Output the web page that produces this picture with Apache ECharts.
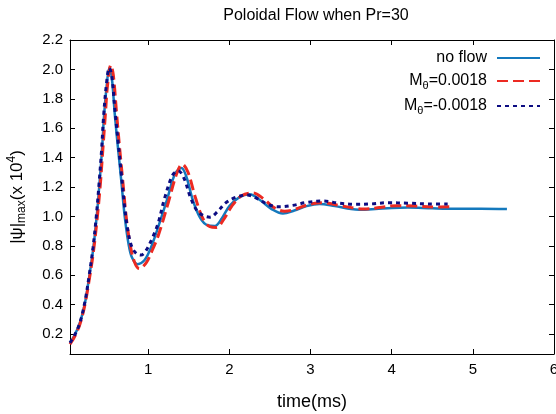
<!DOCTYPE html>
<html><head><meta charset="utf-8">
<script src="https://cdn.jsdelivr.net/npm/echarts@6/dist/echarts.min.js"></script>
<style>html,body{margin:0;padding:0;background:#fff}#c{width:556px;height:414px}</style>
</head><body><div id="c"></div>
<script>
var titleText = 'Poloidal Flow when Pr=30';
var seriesNames = ['no flow', 'Mθ=0.0018', 'Mθ=-0.0018'];
var xTickValues = [1, 2, 3, 4, 5, 6];
var yTickValues = [0.2, 0.4, 0.6, 0.8, 1.0, 1.2, 1.4, 1.6, 1.8, 2.0, 2.2];

var tNoFlow = [0.036,0.10,0.16,0.22,0.27,0.32,0.365,0.40,0.43,0.455,0.49,0.52,0.55,0.59,0.63,0.67,0.71,0.755,0.80,0.87,0.95,1.02,1.10,1.23,1.33,1.41,1.47,1.55,1.64,1.73,1.82,1.91,2.0,2.12,2.25,2.38,2.52,2.66,2.8,2.95,3.11,3.3,3.5,3.6,3.8,4.0,4.2,4.5,4.8,5.1,5.42];
var vNoFlow = [0.14,0.20,0.28,0.41,0.58,0.77,1.0,1.23,1.45,1.68,1.90,2.01,1.95,1.68,1.45,1.23,1.00,0.82,0.72,0.675,0.70,0.77,0.89,1.11,1.29,1.33,1.27,1.11,0.99,0.94,0.935,0.99,1.07,1.13,1.15,1.11,1.05,1.02,1.04,1.07,1.085,1.07,1.05,1.045,1.05,1.058,1.06,1.055,1.052,1.052,1.05];

var tPos = [0.036,0.10,0.16,0.22,0.27,0.32,0.37,0.41,0.44,0.47,0.50,0.54,0.57,0.61,0.65,0.69,0.73,0.78,0.83,0.89,0.97,1.05,1.13,1.25,1.35,1.42,1.49,1.58,1.67,1.76,1.84,1.93,2.03,2.15,2.29,2.42,2.55,2.68,2.82,2.97,3.15,3.35,3.55,3.65,3.85,4.06,4.3,4.5,4.73];
var vPos = [0.13,0.19,0.27,0.40,0.56,0.74,0.98,1.22,1.45,1.68,1.90,2.03,1.96,1.70,1.45,1.22,0.99,0.80,0.69,0.645,0.68,0.77,0.88,1.10,1.29,1.355,1.30,1.13,0.99,0.93,0.925,0.98,1.07,1.14,1.16,1.12,1.06,1.035,1.05,1.08,1.093,1.075,1.055,1.05,1.06,1.073,1.07,1.064,1.065];

var tNeg = [0.036,0.10,0.16,0.22,0.27,0.32,0.36,0.395,0.425,0.45,0.485,0.52,0.55,0.59,0.63,0.67,0.71,0.75,0.80,0.86,0.91,0.97,1.04,1.12,1.2,1.30,1.37,1.44,1.52,1.60,1.68,1.76,1.85,1.95,2.08,2.22,2.35,2.48,2.62,2.78,2.95,3.15,3.35,3.55,3.75,3.95,4.2,4.45,4.69];
var vNeg = [0.14,0.20,0.28,0.42,0.59,0.79,1.0,1.23,1.45,1.68,1.90,2.01,1.96,1.72,1.50,1.28,1.06,0.90,0.79,0.745,0.737,0.765,0.84,0.95,1.12,1.28,1.31,1.26,1.13,1.04,1.005,0.995,1.03,1.09,1.13,1.145,1.12,1.08,1.065,1.075,1.095,1.105,1.09,1.082,1.085,1.093,1.09,1.085,1.084];

function pairs(t, v) { return t.map(function (x, i) { return [x, v[i]]; }); }

var FONT = '"Liberation Sans", Arial, sans-serif';
var chart = echarts.init(document.getElementById('c'), null, {renderer: 'canvas'});
var richName = {
  a: {fontSize: 17, fontFamily: FONT, color: '#000', lineHeight: 22},
  s: {fontSize: 12, fontFamily: FONT, color: '#000', lineHeight: 12, verticalAlign: 'bottom'},
  p: {fontSize: 12, fontFamily: FONT, color: '#000', lineHeight: 12, verticalAlign: 'top'}
};
var richLegend = {
  a: {fontSize: 16, fontFamily: FONT, color: '#000', lineHeight: 20},
  s: {fontSize: 11, fontFamily: FONT, color: '#000', lineHeight: 11, verticalAlign: 'bottom'}
};
function legendFmt(name) {
  if (name.indexOf('Mθ') === 0) return '{a|M}{s|θ}{a|' + name.slice(2) + '}';
  return '{a|' + name + '}';
}
var axisCommon = {
  axisLine: {show: true, onZero: false, lineStyle: {color: '#000', width: 1}},
  splitLine: {show: false}
};
function ticks(vals) { return {show: true, inside: true, length: 5, customValues: vals, lineStyle: {color: '#000'}}; }
var xRange = {min: 0.036, max: 6};
var yRange = {min: 0.064, max: 2.2};
chart.setOption({
  animation: false,
  backgroundColor: '#fff',
  title: {text: titleText, left: 311, top: 3, textAlign: 'center',
    textStyle: {fontSize: 16, fontWeight: 'normal', color: '#000', fontFamily: FONT}},
  grid: {left: 70, right: 2, top: 40, bottom: 60, containLabel: false, outerBoundsMode: 'none'},
  legend: {
    orient: 'vertical', right: 10, top: 45, align: 'right',
    itemWidth: 43, itemHeight: 14, itemGap: 7,
    data: seriesNames,
    formatter: legendFmt,
    itemStyle: {opacity: 0},
    textStyle: {fontSize: 16, fontFamily: FONT, color: '#000', padding: [0, 5, 0, 0], rich: richLegend}
  },
  xAxis: [
    Object.assign({type: 'value', position: 'bottom', name: 'time(ms)', nameLocation: 'middle', nameGap: 39,
      nameTextStyle: {fontSize: 18, fontFamily: FONT, color: '#000'},
      axisLabel: {customValues: xTickValues, margin: 8, fontSize: 15, fontFamily: FONT, color: '#000',
        formatter: function (v) { return String(v); }},
      axisTick: ticks(xTickValues)
    }, xRange, axisCommon),
    Object.assign({type: 'value', position: 'top', axisLabel: {show: false}, axisTick: ticks(xTickValues)}, xRange, axisCommon)
  ],
  yAxis: [
    Object.assign({type: 'value', position: 'left',
      name: '{a||ψ|}{s|max}{a|(x 10}{p|4}{a|)}', nameLocation: 'middle', nameRotate: 90, nameGap: 42,
      nameTextStyle: {rich: richName},
      axisLabel: {customValues: yTickValues, margin: 7, fontSize: 15, fontFamily: FONT, color: '#000',
        formatter: function (v) { return v.toFixed(1); }},
      axisTick: ticks(yTickValues)
    }, yRange, axisCommon),
    Object.assign({type: 'value', position: 'right', axisLabel: {show: false}, axisTick: ticks(yTickValues)}, yRange, axisCommon)
  ],
  series: [
    {name: seriesNames[0], type: 'line', symbol: 'none', smooth: 0.35, data: pairs(tNoFlow, vNoFlow),
      itemStyle: {color: '#1479bd'}, lineStyle: {color: '#1479bd', width: 2.5}},
    {name: seriesNames[1], type: 'line', symbol: 'none', smooth: 0.35, data: pairs(tPos, vPos),
      itemStyle: {color: '#ec2a22'}, lineStyle: {color: '#ec2a22', width: 3, type: [11, 5]}},
    {name: seriesNames[2], type: 'line', symbol: 'none', smooth: 0.35, data: pairs(tNeg, vNeg),
      itemStyle: {color: '#0c0c82'}, lineStyle: {color: '#0c0c82', width: 3, type: [4, 4]}}
  ]
});
</script></body></html>
